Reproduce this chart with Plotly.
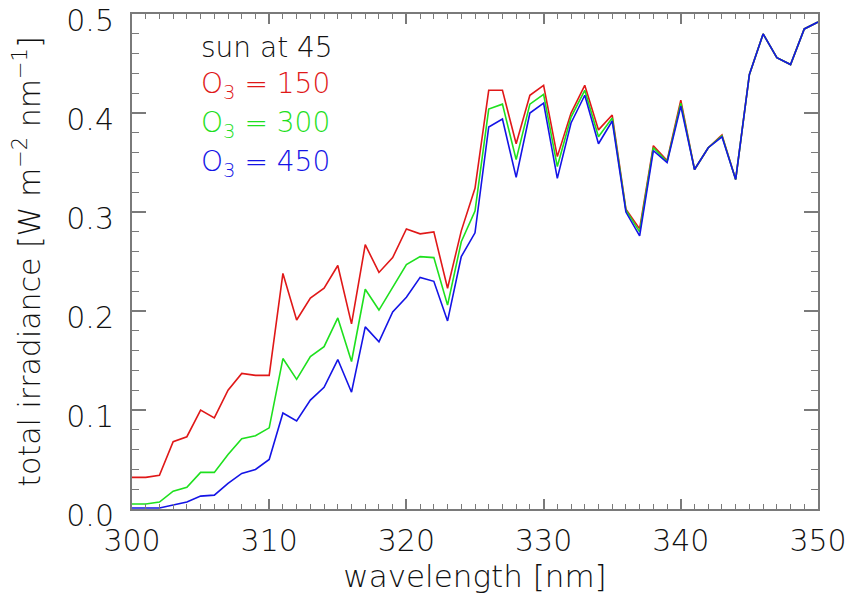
import plotly.graph_objects as go

wavelength = list(range(300, 351))

o3_150 = [0.032, 0.032, 0.034, 0.068, 0.073, 0.100, 0.092, 0.120, 0.137, 0.135,
          0.135, 0.238, 0.191, 0.213, 0.223, 0.246, 0.187, 0.267, 0.239, 0.254,
          0.283, 0.278, 0.280, 0.223, 0.281, 0.324, 0.423, 0.423, 0.369, 0.418,
          0.428, 0.356, 0.400, 0.428, 0.383, 0.398, 0.303, 0.283, 0.367, 0.352,
          0.413, 0.343, 0.365, 0.378, 0.333, 0.439, 0.480, 0.456, 0.449, 0.485,
          0.492]
o3_300 = [0.005, 0.005, 0.007, 0.018, 0.022, 0.037, 0.037, 0.055, 0.071, 0.074,
          0.082, 0.152, 0.131, 0.154, 0.164, 0.193, 0.149, 0.222, 0.201, 0.224,
          0.247, 0.255, 0.254, 0.206, 0.270, 0.301, 0.404, 0.409, 0.353, 0.409,
          0.419, 0.346, 0.396, 0.423, 0.376, 0.395, 0.302, 0.280, 0.365, 0.351,
          0.410, 0.343, 0.365, 0.377, 0.333, 0.439, 0.480, 0.456, 0.449, 0.485,
          0.492]
o3_450 = [0.001, 0.001, 0.001, 0.004, 0.007, 0.013, 0.014, 0.026, 0.036, 0.040,
          0.050, 0.097, 0.089, 0.110, 0.123, 0.151, 0.118, 0.184, 0.169, 0.199,
          0.214, 0.234, 0.230, 0.190, 0.255, 0.279, 0.386, 0.394, 0.335, 0.400,
          0.410, 0.334, 0.390, 0.418, 0.369, 0.392, 0.300, 0.276, 0.362, 0.350,
          0.407, 0.343, 0.365, 0.376, 0.333, 0.439, 0.480, 0.456, 0.449, 0.485,
          0.492]

y_ticks = [0.0, 0.1, 0.2, 0.3, 0.4, 0.5]
y_ticktext = ["0.0", "0.1", "0.2", "0.3", "0.4", "0.5"]

series_names = ["O<sub>3</sub> = 150", "O<sub>3</sub> = 300", "O<sub>3</sub> = 450"]
series_colors = ["#e01818", "#1ee01e", "#1414e6"]
title_note = "sun at 45"

FONT = "DejaVu Sans"
AXC = "#7a7a7a"

fig = go.Figure()
for vals, col, name in zip([o3_150, o3_300, o3_450], series_colors, series_names):
    fig.add_trace(go.Scatter(x=wavelength, y=vals, mode="lines", name=name,
                             line=dict(color=col, width=1.6), showlegend=False))

labels = [(title_note, "#111111")] + list(zip(series_names, series_colors))
ys = [0.9327, 0.856, 0.7758, 0.697]
for (txt, col), yy in zip(labels, ys):
    fig.add_annotation(text=txt, xref="paper", yref="paper", x=0.098, y=yy,
                       xanchor="left", yanchor="middle", showarrow=False,
                       font=dict(family=FONT, size=28, color=col, weight=200))

fig.update_layout(
    width=851, height=601,
    margin=dict(l=132, r=33, t=14, b=92, autoexpand=False),
    paper_bgcolor="white", plot_bgcolor="white",
    font=dict(family=FONT, size=30, color="#111111", weight=200),
)
fig.update_xaxes(
    range=[300, 350], dtick=10, tick0=300, showgrid=False, zeroline=False,
    showline=True, linecolor=AXC, linewidth=2, mirror="allticks",
    ticks="inside", ticklen=10, tickwidth=1.5, tickcolor=AXC,
    minor=dict(dtick=1, ticks="inside", ticklen=5, tickwidth=1.2, tickcolor=AXC, showgrid=False),
    ticklabelstandoff=4, ticklabeloverflow="allow",
    tickfont=dict(family=FONT, size=30, weight=200),
    title=dict(text="wavelength [nm]", font=dict(family=FONT, size=31, weight=200), standoff=4),
)
fig.update_yaxes(
    range=[0, 0.5001], tickmode="array", tickvals=y_ticks, ticktext=y_ticktext,
    showgrid=False, zeroline=False,
    showline=True, linecolor=AXC, linewidth=2, mirror="allticks",
    ticks="inside", ticklen=14, tickwidth=1.5, tickcolor=AXC,
    minor=dict(tickmode="linear", tick0=0, dtick=0.02, ticks="inside", ticklen=7,
               tickwidth=1.2, tickcolor=AXC, showgrid=False),
    ticklabelstandoff=10, ticklabeloverflow="allow", ticklabelshift=6,
    tickfont=dict(family=FONT, size=30, weight=200),
    title=dict(text="total irradiance [W m<sup>\u22122</sup> nm<sup>\u22121</sup>]",
               font=dict(family=FONT, size=30, weight=200), standoff=17),
)

fig.write_html("out.html", config={"displayModeBar": False},
               post_script="document.body.style.margin='0';")
